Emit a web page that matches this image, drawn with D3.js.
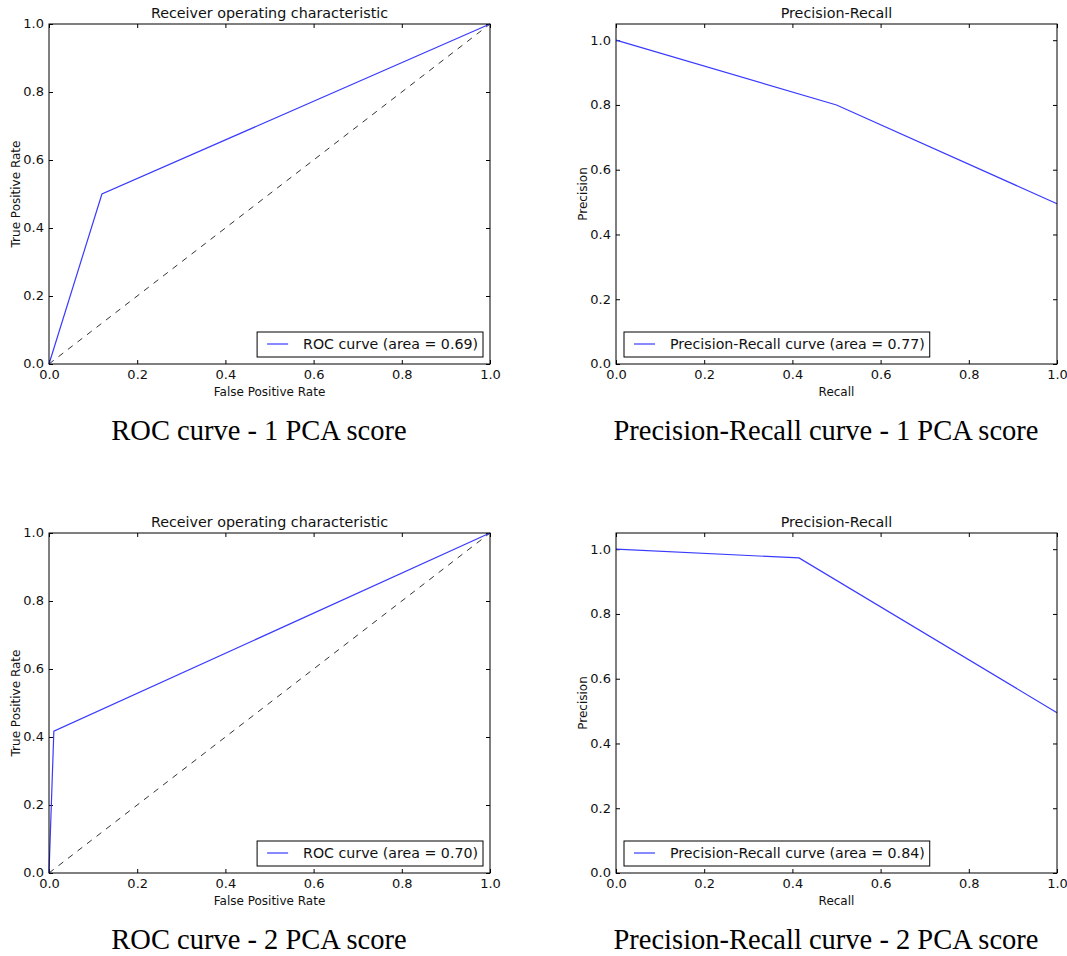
<!DOCTYPE html>
<html>
<head>
<meta charset="utf-8">
<script src="https://cdn.jsdelivr.net/npm/d3@7"></script>
<style>
  body { margin: 0; background: #fff; }
  svg { display: block; }
  .tick text { font-family: "DejaVu Sans", sans-serif; font-size: 13px; fill: #111; }
</style>
</head>
<body>
<svg id="chart"></svg>
<script>
// values
const roc1Fpr = [0, 0.12, 1];
const roc1Tpr = [0, 0.5, 1];
const roc2Fpr = [0, 0.011, 1];
const roc2Tpr = [0, 0.417, 1];
const pr1Recall = [0, 0.5, 1];
const pr1Precision = [1, 0.8, 0.495];
const pr2Recall = [0, 0.415, 1];
const pr2Precision = [1, 0.973, 0.495];
const chanceLine = [0, 1];
const xTicks = [0, 0.2, 0.4, 0.6, 0.8, 1.0];
const yTicks = [0, 0.2, 0.4, 0.6, 0.8, 1.0];
const legendLabels = ["ROC curve (area = 0.69)", "Precision-Recall curve (area = 0.77)",
                      "ROC curve (area = 0.70)", "Precision-Recall curve (area = 0.84)"];
const captions = ["ROC curve - 1 PCA score", "Precision-Recall curve - 1 PCA score",
                  "ROC curve - 2 PCA score", "Precision-Recall curve - 2 PCA score"];

const width = 1067, height = 956;
const blue = "#3a3aff";
const svg = d3.select("#chart").attr("width", width).attr("height", height);

const panels = [
  {x0: 49, y0: 24, xs: roc1Fpr, ys: roc1Tpr, roc: true, yMax: 1.0, legend: legendLabels[0], caption: captions[0]},
  {x0: 616, y0: 24, xs: pr1Recall, ys: pr1Precision, roc: false, yMax: 1.05, legend: legendLabels[1], caption: captions[1]},
  {x0: 49, y0: 533, xs: roc2Fpr, ys: roc2Tpr, roc: true, yMax: 1.0, legend: legendLabels[2], caption: captions[2]},
  {x0: 616, y0: 533, xs: pr2Recall, ys: pr2Precision, roc: false, yMax: 1.05, legend: legendLabels[3], caption: captions[3]}
];
const pw = 441, ph = 340;

panels.forEach(function(p) {
  const g = svg.append("g").attr("transform", `translate(${p.x0},${p.y0})`);
  const x = d3.scaleLinear().domain([0, 1]).range([0, pw]);
  const y = d3.scaleLinear().domain([0, p.yMax]).range([ph, 0]);

  // axes with inward ticks on all sides
  const bottom = g.append("g").attr("transform", `translate(0,${ph})`)
    .call(d3.axisBottom(x).tickValues(xTicks).tickFormat(d3.format(".1f"))
      .tickSizeInner(-4).tickSizeOuter(0).tickPadding(6));
  const left = g.append("g")
    .call(d3.axisLeft(y).tickValues(yTicks).tickFormat(d3.format(".1f"))
      .tickSizeInner(-4).tickSizeOuter(0).tickPadding(5));
  const top = g.append("g")
    .call(d3.axisTop(x).tickValues(xTicks).tickFormat("").tickSizeInner(-4).tickSizeOuter(0));
  const right = g.append("g").attr("transform", `translate(${pw},0)`)
    .call(d3.axisRight(y).tickValues(yTicks).tickFormat("").tickSizeInner(-4).tickSizeOuter(0));
  [bottom, left, top, right].forEach(a => {
    a.select(".domain").remove();
    a.selectAll(".tick line").attr("stroke", "#000");
  });
  left.selectAll(".tick text").attr("dy", "0.3em");

  const line = d3.line().x(d => x(d[0])).y(d => y(d[1]));

  if (p.roc) {
    g.append("path")
      .attr("d", line(chanceLine.map(v => [v, v])))
      .attr("fill", "none").attr("stroke", "#333").attr("stroke-width", 1)
      .attr("stroke-dasharray", "6,6");
  }

  g.append("path")
    .attr("d", line(p.xs.map((v, i) => [v, p.ys[i]])))
    .attr("fill", "none").attr("stroke", blue).attr("stroke-width", 1.2);

  g.append("rect").attr("width", pw).attr("height", ph)
    .attr("fill", "none").attr("stroke", "#000").attr("stroke-width", 1);

  // title and axis labels
  g.append("text").attr("x", pw / 2).attr("y", -6).attr("text-anchor", "middle")
    .attr("font-family", "DejaVu Sans, sans-serif").attr("font-size", 14.3).attr("fill", "#111")
    .text(p.roc ? "Receiver operating characteristic" : "Precision-Recall");
  g.append("text").attr("x", pw / 2).attr("y", ph + 32).attr("text-anchor", "middle")
    .attr("font-family", "DejaVu Sans, sans-serif").attr("font-size", 12).attr("fill", "#111")
    .text(p.roc ? "False Positive Rate" : "Recall");
  g.append("text").attr("transform", `translate(-29,${ph / 2}) rotate(-90)`)
    .attr("text-anchor", "middle")
    .attr("font-family", "DejaVu Sans, sans-serif").attr("font-size", 12).attr("fill", "#111")
    .text(p.roc ? "True Positive Rate" : "Precision");

  // legend
  const lg = g.append("g");
  const txt = lg.append("text").attr("font-family", "DejaVu Sans, sans-serif").attr("font-size", 14.2)
    .attr("fill", "#111").attr("x", 46).attr("y", 16.5).text(p.legend);
  const tw = txt.node().getComputedTextLength();
  const bw = tw + 51, bh = 25;
  lg.insert("rect", "text").attr("width", bw).attr("height", bh)
    .attr("fill", "#fff").attr("stroke", "#000").attr("stroke-width", 1);
  lg.append("line").attr("x1", 10).attr("x2", 31).attr("y1", 12).attr("y2", 12)
    .attr("stroke", blue).attr("stroke-width", 1.2);
  const lx = p.roc ? pw - 7 - bw : 8;
  lg.attr("transform", `translate(${lx},${ph - 7 - bh})`);

  // caption below panel
  svg.append("text").attr("x", p.x0 + 210).attr("y", p.y0 + ph + 76)
    .attr("text-anchor", "middle")
    .attr("font-family", "Liberation Serif, serif").attr("font-size", 28.5)
    .text(p.caption);
});
</script>
</body>
</html>
